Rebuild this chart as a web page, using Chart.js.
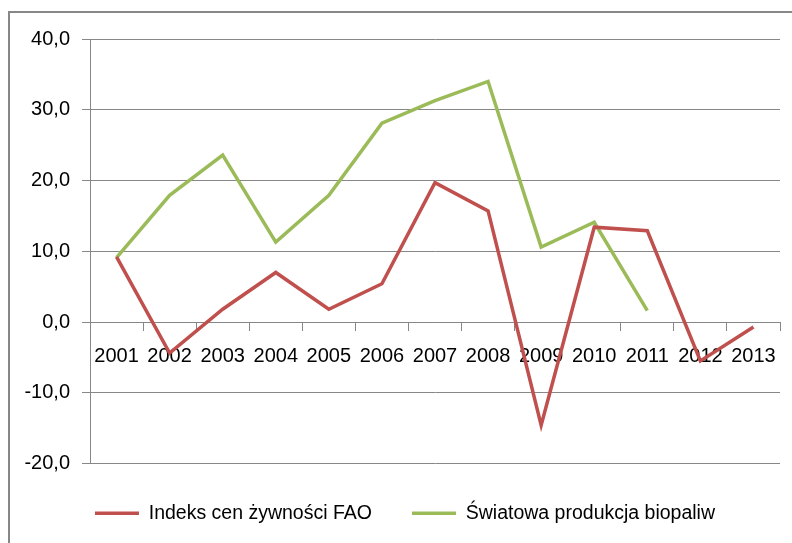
<!DOCTYPE html>
<html>
<head>
<meta charset="utf-8">
<script src="https://cdn.jsdelivr.net/npm/chart.js@4/dist/chart.umd.min.js"></script>
<style>
  html, body { margin: 0; padding: 0; background: #fff; overflow: hidden; }
  #wrap { width: 792px; height: 543px; }
</style>
</head>
<body>
<div id="wrap"><canvas id="foodChart" width="792" height="543"></canvas></div>
<script>
const years = ['2001', '2002', '2003', '2004', '2005', '2006', '2007', '2008', '2009', '2010', '2011', '2012', '2013'];
const faoIndex = [9.2, -4.4, 1.8, 7.0, 1.8, 5.4, 19.7, 15.7, -14.6, 13.4, 12.9, -5.5, -0.7];
const biofuels = [9.1, 17.9, 23.6, 11.3, 17.9, 28.1, 31.3, 34.0, 10.6, 14.1, 1.6, null, null];
const yTicks = [-20, -10, 0, 10, 20, 30, 40];

// grey frame round the whole chart, runs off the right and bottom edges
const framePlugin = {
    id: 'frame',
    beforeDraw(chart) {
        const c = chart.ctx;
        c.save();
        c.strokeStyle = '#878787';
        c.lineWidth = 2;
        c.strokeRect(9, 12, 900, 700);
        c.restore();
    }
};

// legend in the original sits a bit right of the canvas centre
const legendShift = {
    id: 'legendShift',
    afterLayout(chart) {
        chart.legend.left += 15;
        chart.legend.right += 15;
    }
};

document.addEventListener('DOMContentLoaded', () => {
    const ctx = document.getElementById('foodChart').getContext('2d');
    Chart.defaults.font.family = '"Liberation Sans", Arial, sans-serif';
    Chart.defaults.color = '#000';

    new Chart(ctx, {
        type: 'line',
        data: {
            labels: years,
            datasets: [
                {
                    label: 'Indeks cen żywności FAO',
                    data: faoIndex,
                    borderColor: '#C0504D',
                    backgroundColor: '#C0504D',
                    borderWidth: 3.5,
                    pointRadius: 0,
                    tension: 0
                },
                {
                    label: 'Światowa produkcja biopaliw',
                    data: biofuels,
                    borderColor: '#9BBB59',
                    backgroundColor: '#9BBB59',
                    borderWidth: 3.5,
                    pointRadius: 0,
                    tension: 0
                }
            ]
        },
        options: {
            responsive: false,
            animation: false,
            layout: { padding: { left: 0, right: 12, top: 39, bottom: 10 } },
            plugins: {
                tooltip: { enabled: false },
                legend: {
                    position: 'bottom',
                    labels: {
                        usePointStyle: true,
                        pointStyle: 'line',
                        pointStyleWidth: 44,
                        padding: 40,
                        font: { size: 19.5 },
                        color: '#000'
                    }
                }
            },
            scales: {
                x: {
                    position: { y: 0 },
                    offset: true,
                    grid: {
                        offset: true,
                        drawOnChartArea: false,
                        drawTicks: true,
                        tickLength: 8,
                        color: '#878787'
                    },
                    border: { display: true, color: '#878787', width: 1 },
                    ticks: { font: { size: 20 }, padding: 14, maxRotation: 0, autoSkip: false }
                },
                y: {
                    min: -20,
                    max: 40,
                    afterBuildTicks: (scale) => { scale.ticks = yTicks.map(v => ({ value: v })); },
                    afterFit: (scale) => { scale.width = 90; },
                    grid: { color: '#878787', tickLength: 8, lineWidth: 1 },
                    border: { display: true, color: '#878787', width: 1 },
                    ticks: {
                        font: { size: 20 },
                        padding: 12,
                        callback: (v) => v.toFixed(1).replace('.', ',')
                    }
                }
            }
        },
        plugins: [framePlugin, legendShift]
    });
});
</script>
</body>
</html>
